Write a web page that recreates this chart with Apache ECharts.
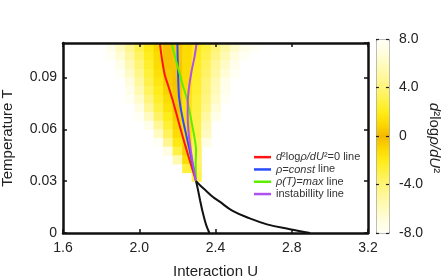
<!DOCTYPE html>
<html><head><meta charset="utf-8">
<script src="https://cdn.jsdelivr.net/npm/echarts/dist/echarts.min.js"></script>
<style>html,body{margin:0;padding:0;background:#fff}#c{width:443px;height:278px}</style>
</head><body><div id="c"></div>
<script>
// ---- data ----
const U_COLS = [1.85,1.90,1.95,2.00,2.05,2.10,2.15,2.20,2.25,2.30,2.35,2.40,2.45,2.50,2.55,2.60];
const T_ROWS = [0.1075,0.1025,0.0975,0.0925,0.0875,0.0825,0.0775,0.0725,0.0675,0.0625,0.0575,0.0525,0.0475,0.0425,0.0375,0.0325];
const _ = null;
const FIELD = [
 [7.6,6.1,4.6,3.1,1.9,0.9,0.2,-0.5,-1.1,-1.9,-2.8,-3.9,-5.1,-6.3,-7.3,-7.9],
 [7.9,6.7,5.0,3.5,2.1,1.1,0.2,-0.5,-1.2,-2.0,-3.0,-4.3,-5.6,-6.9,-7.9,_],
 [_,7.3,5.6,3.9,2.4,1.2,0.3,-0.4,-1.2,-2.2,-3.4,-4.8,-6.2,-7.6,_,_],
 [_,7.9,6.2,4.4,2.7,1.4,0.5,-0.4,-1.2,-2.3,-3.6,-5.1,-6.7,-7.9,_,_],
 [_,_,6.9,4.9,3.1,1.7,0.6,-0.3,-1.2,-2.4,-3.9,-5.6,-7.3,_,_,_],
 [_,_,7.5,5.5,3.5,2.0,0.8,-0.4,-1.3,-2.5,-4.0,-5.8,-7.6,_,_,_],
 [_,_,7.9,6.3,4.1,2.4,1.2,-0.4,-1.4,-2.7,-4.2,-6.1,-7.9,_,_,_],
 [_,_,_,7.1,4.8,2.9,1.5,0.3,-1.5,-2.8,-4.5,-6.7,_,_,_,_],
 [_,_,_,7.9,6.0,3.6,2.0,0.6,-1.3,-2.9,-5.0,-7.4,_,_,_,_],
 [_,_,_,_,7.4,4.8,2.6,0.9,-1.2,-3.1,-5.6,_,_,_,_,_],
 [_,_,_,_,_,6.1,3.4,1.2,-1.1,-3.0,-6.0,_,_,_,_,_],
 [_,_,_,_,_,7.9,4.6,1.8,-0.9,-3.3,-7.2,_,_,_,_,_],
 [_,_,_,_,_,_,7.1,2.9,-0.7,-3.6,_,_,_,_,_,_],
 [_,_,_,_,_,_,_,5.5,1.2,-3.7,_,_,_,_,_,_],
 [_,_,_,_,_,_,_,_,2.7,-3.4,_,_,_,_,_,_],
 [_,_,_,_,_,_,_,_,_,-3.1,_,_,_,_,_,_]
];
const RED = [[2.108,0.110],[2.120,0.100],[2.135,0.091],[2.150,0.086],[2.175,0.077],[2.200,0.067],[2.230,0.055],[2.262,0.043],[2.298,0.030]];
const BLUE = [[2.200,0.110],[2.203,0.095],[2.208,0.080],[2.218,0.072],[2.232,0.064],[2.250,0.055],[2.266,0.047],[2.285,0.037],[2.298,0.030]];
const GREEN = [[2.170,0.110],[2.190,0.101],[2.210,0.093],[2.230,0.085],[2.249,0.078],[2.263,0.071],[2.275,0.064],[2.290,0.055],[2.298,0.048],[2.296,0.040],[2.298,0.030]];
const PURPLE = [[2.301,0.110],[2.290,0.102],[2.275,0.094],[2.262,0.085],[2.255,0.077],[2.254,0.068],[2.262,0.055],[2.280,0.041],[2.298,0.030]];
const BLACK_A = [[2.298,0.030],[2.308,0.025],[2.319,0.019],[2.333,0.012],[2.350,0.005],[2.368,0.000]];
const BLACK_B = [[2.298,0.030],[2.320,0.0275],[2.350,0.0245],[2.385,0.021],[2.420,0.0183],[2.490,0.0128],[2.580,0.0085],[2.670,0.005],[2.790,0.0022],[2.896,0.000]];
const SERIES_NAMES = ['d²logρ/dU²=0 line','ρ=const line','ρ(T)=max line','instabillity line'];
const LEGEND_RICH = ['{i|d}{n|²log}{i|ρ/dU}{n|²=0 line}','{i|ρ=const}{n| line}','{i|ρ(T)=max}{n| line}','{n|instabillity line}'];
const X_RANGE = [1.6, 3.2], X_STEP = 0.4;
const Y_RANGE = [0, 0.11], Y_STEP = 0.03;
const C_RANGE = [-8, 8], C_STEP = 4;
const C_COLORS = ['#fffff6','#fffde0','#fffbc0','#fff8a0','#fff478','#fff148','#ffec18','#fcd800','#f4b800','#fcd800','#ffec18','#fff148','#fff478','#fff8a0','#fffbc0','#fffde0','#fffff6'];

// ---- build ----
const DU = U_COLS[1]-U_COLS[0], DT = T_ROWS[0]-T_ROWS[1];
const cells = [];
T_ROWS.forEach((t,i)=>U_COLS.forEach((u,j)=>{ const v=FIELD[i][j]; if(v!==null) cells.push([u,t,v]); }));
const FONT = 'Liberation Sans, Arial, sans-serif';
const chart = echarts.init(document.getElementById('c'), null, {renderer:'canvas'});
const axLine = {show:true, onZero:false, lineStyle:{color:'#111', width:2.5}};
const axTick = {show:true, inside:true, length:4, lineStyle:{color:'#111', width:1.5}};
const lbl = {color:'#222', fontSize:14, fontFamily:FONT};
const colors = ['#ff1414','#2a4cff','#5cf000','#b050f0'];
const lineData = [RED,BLUE,GREEN,PURPLE];
chart.setOption({
  backgroundColor:'#fff',
  animation:false,
  grid:[{left:63, top:43, width:305, height:190, containLabel:false, outerBoundsMode:'none'},
        {left:376, top:39, width:13, height:194, containLabel:false, outerBoundsMode:'none'}],
  xAxis:[
    {gridIndex:0, type:'value', min:X_RANGE[0], max:X_RANGE[1], interval:X_STEP, position:'bottom', z:10,
     axisLine:axLine, axisTick:axTick, splitLine:{show:false},
     axisLabel:Object.assign({margin:8, formatter:v=>v.toFixed(1)}, lbl),
     name:'Interaction U', nameLocation:'middle', nameGap:31, nameTextStyle:{color:'#222', fontSize:15, fontFamily:FONT}},
    {gridIndex:0, type:'value', min:X_RANGE[0], max:X_RANGE[1], interval:X_STEP, position:'top', z:10,
     axisLine:axLine, axisTick:axTick, splitLine:{show:false}, axisLabel:{show:false}},
    {gridIndex:1, type:'value', min:0, max:1, show:false}
  ],
  yAxis:[
    {gridIndex:0, type:'value', min:Y_RANGE[0], max:Y_RANGE[1], interval:Y_STEP, position:'left', z:10,
     axisLine:axLine, axisTick:axTick, splitLine:{show:false},
     axisLabel:Object.assign({margin:6, showMaxLabel:false, formatter:v=>v===0?'0':v.toFixed(2)}, lbl),
     name:'Temperature T', nameLocation:'middle', nameGap:48, nameRotate:90, nameTextStyle:{color:'#222', fontSize:15, fontFamily:FONT}},
    {gridIndex:0, type:'value', min:Y_RANGE[0], max:Y_RANGE[1], interval:Y_STEP, position:'right', z:10,
     axisLine:axLine, axisTick:axTick, splitLine:{show:false}, axisLabel:{show:false}},
    {gridIndex:1, type:'value', min:C_RANGE[0], max:C_RANGE[1], interval:C_STEP, position:'left', z:10,
     axisLine:{show:false, onZero:false}, axisTick:{show:true, inside:true, length:3, lineStyle:{color:'#222', width:1.2}}, splitLine:{show:false}, axisLabel:{show:false}},
    {gridIndex:1, type:'value', min:C_RANGE[0], max:C_RANGE[1], interval:C_STEP, position:'right', z:10,
     axisLine:{show:false, onZero:false}, axisTick:{show:true, inside:true, length:3, lineStyle:{color:'#222', width:1.2}}, splitLine:{show:false},
     axisLabel:Object.assign({margin:10, formatter:v=>v===0?'0':v.toFixed(1)}, lbl)}
  ],
  visualMap:{
    type:'continuous', min:C_RANGE[0], max:C_RANGE[1], seriesIndex:0, dimension:2, calculable:false,
    left:376, top:39, itemWidth:13, itemHeight:194, padding:0, borderColor:'#9a9a9a', borderWidth:1,
    inRange:{color:C_COLORS}
  },
  legend:{
    data:SERIES_NAMES, orient:'vertical', left:249, top:146, itemWidth:17, itemHeight:2.5, itemGap:0, icon:'rect',
    formatter:n=>LEGEND_RICH[SERIES_NAMES.indexOf(n)],
    textStyle:{fontSize:11, fontFamily:FONT, color:'#333', lineHeight:12.3,
      rich:{i:{fontStyle:'italic', fontSize:11, fontFamily:FONT, color:'#333', lineHeight:12.3}, n:{fontSize:11, fontFamily:FONT, color:'#333', lineHeight:12.3}}}
  },
  graphic:[{type:'text', x:434, y:138, rotation:-Math.PI/2,
    style:{text:'{i|d}{n|²log}{i|ρ/dU}{n|²}', align:'center', verticalAlign:'middle',
      rich:{i:{fontStyle:'italic', fontSize:15, fontFamily:FONT, fill:'#222'}, n:{fontSize:15, fontFamily:FONT, fill:'#222'}}}}],
  series:[
    {type:'custom', xAxisIndex:0, yAxisIndex:0, data:cells, encode:{x:0, y:1}, z:1,
     renderItem:(params, api)=>{
       const u=api.value(0), t=api.value(1);
       const p0=api.coord([u-DU/2, t+DT/2]), p1=api.coord([u+DU/2, t-DT/2]);
       return {type:'rect', shape:{x:p0[0], y:p0[1], width:p1[0]-p0[0]+0.6, height:p1[1]-p0[1]+0.6}, style:{fill:api.visual('color')}};
     }},
    ...lineData.map((d,k)=>({type:'line', name:SERIES_NAMES[k], data:d, xAxisIndex:0, yAxisIndex:0, showSymbol:false, symbol:'none', smooth:0.3, z:3,
      lineStyle:{color:colors[k], width:2}, itemStyle:{color:colors[k]}})),
    {type:'line', name:'b1', data:BLACK_A, xAxisIndex:0, yAxisIndex:0, symbol:'none', smooth:0.3, z:3, lineStyle:{color:'#111', width:2}},
    {type:'line', name:'b2', data:BLACK_B, xAxisIndex:0, yAxisIndex:0, symbol:'none', smooth:0.4, z:3, lineStyle:{color:'#111', width:2}}
  ]
});
</script></body></html>
